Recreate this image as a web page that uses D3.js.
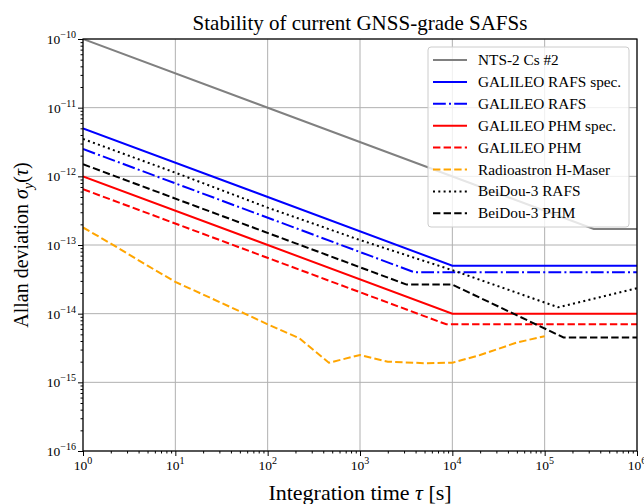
<!DOCTYPE html>
<html><head><meta charset="utf-8">
<script src="https://cdn.jsdelivr.net/npm/d3@7"></script>
<style>
body{margin:0;background:#fff;}
text{font-family:"Liberation Serif","Times New Roman",serif;fill:#000;}
</style></head>
<body><svg id="c" width="644" height="504"></svg>
<script>
// ---- data ----
const ntsTau = [1, 3.4e5, 1e6];
const ntsSig = [1e-10, 1.71e-13, 1.71e-13];
const galRafsSpecTau = [1, 1e4, 1e6];
const galRafsSpecSig = [5e-12, 5e-14, 5e-14];
const galRafsTau = [1, 3.9e3, 1e6];
const galRafsSig = [2.5e-12, 4e-14, 4e-14];
const galPhmSpecTau = [1, 1e4, 1e6];
const galPhmSpecSig = [1e-12, 1e-14, 1e-14];
const galPhmTau = [1, 8.6e3, 1e6];
const galPhmSig = [6.5e-13, 7e-15, 7e-15];
const radioTau = [1, 2, 5, 10, 20, 50, 100, 220, 460, 1000, 2000, 5000, 1e4, 2e4, 5e4, 1e5];
const radioSig = [1.8e-13, 1.05e-13, 5.0e-14, 2.9e-14, 1.9e-14, 1.08e-14, 7.0e-15, 4.4e-15, 1.93e-15, 2.5e-15, 2.0e-15, 1.9e-15, 1.93e-15, 2.5e-15, 3.8e-15, 4.7e-15];
const beiRafsTau = [1, 10, 100, 1000, 1e4, 1.4e5, 1e6];
const beiRafsSig = [3.5e-12, 1.13e-12, 3.5e-13, 1.18e-13, 4.3e-14, 1.24e-14, 2.35e-14];
const beiPhmTau = [1, 3.2e3, 1e4, 1.6e5, 1e6];
const beiPhmSig = [1.5e-12, 2.65e-14, 2.65e-14, 4.5e-15, 4.5e-15];

const seriesNames = ["NTS-2 Cs #2","GALILEO RAFS spec.","GALILEO RAFS","GALILEO PHM spec.","GALILEO PHM","Radioastron H-Maser","BeiDou-3 RAFS","BeiDou-3 PHM"];
const xTickExps = [0,1,2,3,4,5,6];
const yTickExps = [-16,-15,-14,-13,-12,-11,-10];

const styles = [
  {color:"#808080", dash:null},
  {color:"#0000ff", dash:null},
  {color:"#0000ff", dash:"12.8,3.2,2,3.2"},
  {color:"#ff0000", dash:null},
  {color:"#ff0000", dash:"7.4,3.2"},
  {color:"#ffa500", dash:"7.4,3.2"},
  {color:"#000000", dash:"2,3.3"},
  {color:"#000000", dash:"7.4,3.2"}
];
const seriesData = [
  [ntsTau, ntsSig],[galRafsSpecTau, galRafsSpecSig],[galRafsTau, galRafsSig],
  [galPhmSpecTau, galPhmSpecSig],[galPhmTau, galPhmSig],[radioTau, radioSig],
  [beiRafsTau, beiRafsSig],[beiPhmTau, beiPhmSig]
];

// ---- layout ----
const L=83, R=637, T=39, B=451;
const svg = d3.select("#c");
const x = d3.scaleLog().domain([1,1e6]).range([L,R]);
const y = d3.scaleLog().domain([1e-16,1e-10]).range([B,T]);

// grid
const g = svg.append("g");
g.selectAll(".gx").data(xTickExps).enter().append("line")
  .attr("x1",d=>x(10**d)).attr("x2",d=>x(10**d)).attr("y1",T).attr("y2",B)
  .attr("stroke","#b0b0b0").attr("stroke-width",1);
g.selectAll(".gy").data(yTickExps).enter().append("line")
  .attr("y1",d=>y(10**d)).attr("y2",d=>y(10**d)).attr("x1",L).attr("x2",R)
  .attr("stroke","#b0b0b0").attr("stroke-width",1);

// minor tick values
const xMinor=[]; for(let e=0;e<6;e++) for(let k=2;k<10;k++) xMinor.push(k*10**e);
const yMinor=[]; for(let e=-16;e<-10;e++) for(let k=2;k<10;k++) yMinor.push(k*10**e);

function styleAxis(sel){ sel.select(".domain").remove(); sel.selectAll("text").remove(); sel.selectAll("line").attr("stroke","#000").attr("stroke-width",1); }
svg.append("g").attr("transform",`translate(0,${B})`).call(d3.axisBottom(x).tickValues(xTickExps.map(d=>10**d)).tickSize(5)).call(styleAxis);
svg.append("g").attr("transform",`translate(0,${B})`).call(d3.axisBottom(x).tickValues(xMinor).tickSize(2.5)).call(styleAxis);
svg.append("g").attr("transform",`translate(${L},0)`).call(d3.axisLeft(y).tickValues(yTickExps.map(d=>10**d)).tickSize(5)).call(styleAxis);
svg.append("g").attr("transform",`translate(${L},0)`).call(d3.axisLeft(y).tickValues(yMinor).tickSize(2.5)).call(styleAxis);

// lines
svg.append("clipPath").attr("id","pc").append("rect").attr("x",L).attr("y",T).attr("width",R-L).attr("height",B-T);
const line = d3.line().x(d=>x(d[0])).y(d=>y(d[1]));
seriesData.forEach((s,i)=>{
  const pts = s[0].map((t,j)=>[t,s[1][j]]);
  svg.append("path").attr("d",line(pts)).attr("fill","none")
    .attr("stroke",styles[i].color).attr("stroke-width",2)
    .attr("stroke-dasharray",styles[i].dash).attr("clip-path","url(#pc)");
});

// frame
svg.append("rect").attr("x",L).attr("y",T).attr("width",R-L).attr("height",B-T)
  .attr("fill","none").attr("stroke","#000").attr("stroke-width",1.2);

// tick labels
xTickExps.forEach(e=>{
  const t = svg.append("text").attr("x",x(10**e)).attr("y",B+19).attr("text-anchor","middle").style("font-size","13.5px");
  t.append("tspan").text("10");
  t.append("tspan").attr("dy",-6).style("font-size","10px").text(String(e));
});
yTickExps.forEach(e=>{
  const t = svg.append("text").attr("x",L-7).attr("y",y(10**e)+5).attr("text-anchor","end").style("font-size","13.5px");
  t.append("tspan").text("10");
  t.append("tspan").attr("dy",-6).style("font-size","10px").text("\u2212"+String(-e));
});

// title and labels
svg.append("text").attr("x",(L+R)/2).attr("y",30).attr("text-anchor","middle").style("font-size","21px")
  .text("Stability of current GNSS-grade SAFSs");
const xl = svg.append("text").attr("x",(L+R)/2).attr("y",500).attr("text-anchor","middle").style("font-size","22px");
xl.append("tspan").text("Integration time ");
xl.append("tspan").style("font-style","italic").text("\u03c4");
xl.append("tspan").text(" [s]");
const yl = svg.append("text").attr("transform",`translate(28,${(T+B)/2}) rotate(-90)`).attr("text-anchor","middle").style("font-size","20px");
yl.append("tspan").text("Allan deviation ");
yl.append("tspan").style("font-style","italic").text("\u03c3");
yl.append("tspan").style("font-style","italic").style("font-size","14px").attr("dy",5).text("y");
yl.append("tspan").attr("dy",-5).text("(");
yl.append("tspan").style("font-style","italic").text("\u03c4");
yl.append("tspan").text(")");

// legend
const lg = svg.append("g");
lg.append("rect").attr("x",428).attr("y",47).attr("width",201).attr("height",180).attr("rx",3)
  .attr("fill","#fff").attr("fill-opacity",0.8).attr("stroke","#cccccc").attr("stroke-width",1);
seriesNames.forEach((n,i)=>{
  const yy = 60 + i*21.9;
  lg.append("line").attr("x1",433).attr("x2",467).attr("y1",yy).attr("y2",yy)
    .attr("stroke",styles[i].color).attr("stroke-width",2).attr("stroke-dasharray",styles[i].dash);
  lg.append("text").attr("x",478).attr("y",yy+5).style("font-size","15.3px").text(n);
});
</script></body></html>
